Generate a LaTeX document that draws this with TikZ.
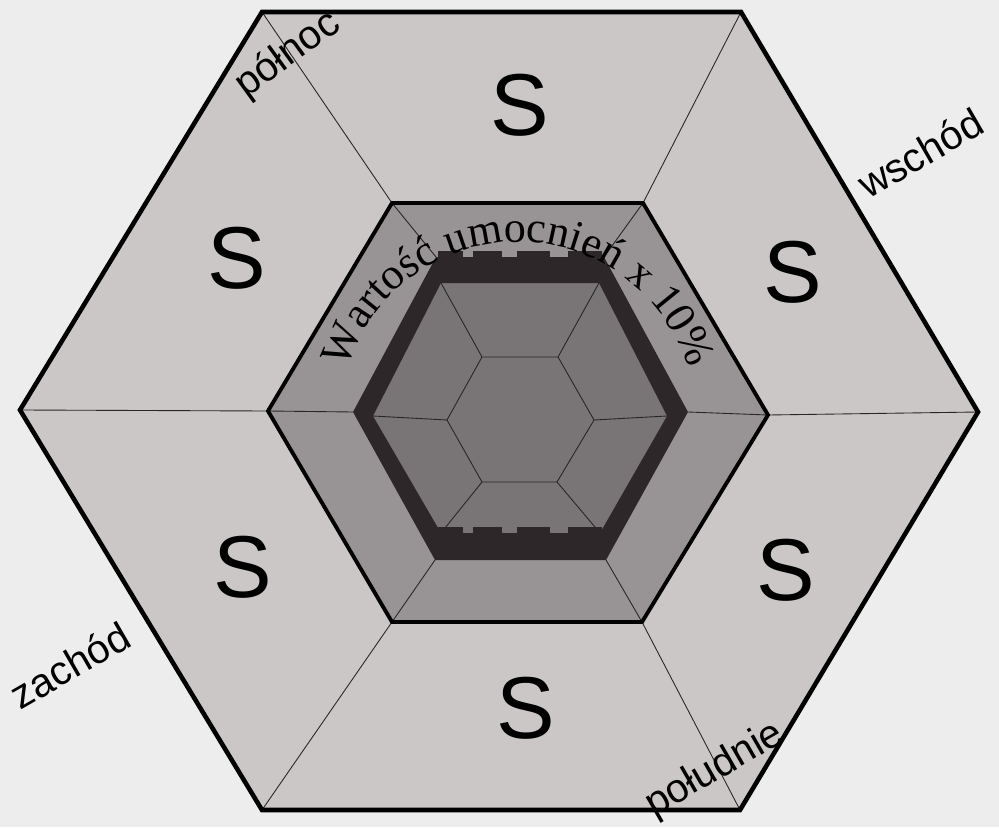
\documentclass[tikz,border=0pt]{standalone}
\usepackage{fontspec}
\setmainfont{Liberation Serif}
\setsansfont{Liberation Sans}
\usepackage{tikz}
\usetikzlibrary{decorations.text}
\definecolor{paper}{RGB}{238,237,237}
\definecolor{ringlight}{RGB}{203,199,199}
\definecolor{ringmid}{RGB}{152,147,148}
\definecolor{ringdark}{RGB}{121,116,117}
\definecolor{wallcol}{RGB}{46,39,41}
\newcommand{\arcfont}{\rmfamily\fontsize{25}{25}\selectfont}

\tikzset{
  spoke/.style={line width=0.5pt, black!85},
  hexborder/.style={line width=2.6pt, line join=miter},
  sectorlabel/.style={font=\sffamily\fontsize{50}{50}\selectfont, inner sep=0pt},
  compass/.style={font=\sffamily\fontsize{23}{23}\selectfont, rotate=30, inner sep=0pt}
}

\begin{document}
\begin{tikzpicture}[x=0.02cm, y=-0.02cm]
    \useasboundingbox (0,0) rectangle (999,827);
    \fill[paper] (0,0) rectangle (999,827);

    % Hexagon corners (outer, middle, wall, inner, centre)
    \coordinate (O1) at (262,12);  \coordinate (O2) at (741,12);  \coordinate (O3) at (978,412);
    \coordinate (O4) at (740,810); \coordinate (O5) at (262,810); \coordinate (O6) at (20,410);
    \coordinate (M1) at (392,203); \coordinate (M2) at (643,203); \coordinate (M3) at (768,415);
    \coordinate (M4) at (642,622); \coordinate (M5) at (392,622); \coordinate (M6) at (268,411);
    \coordinate (B1) at (436,257); \coordinate (B2) at (604,257); \coordinate (B3) at (688,412);
    \coordinate (B4) at (606,560); \coordinate (B5) at (435,560); \coordinate (B6) at (353,412);
    \coordinate (I1) at (441,283); \coordinate (I2) at (599,283); \coordinate (I3) at (667,416);
    \coordinate (I4) at (600,533); \coordinate (I5) at (441,533); \coordinate (I6) at (373,416);
    \coordinate (C1) at (482,357); \coordinate (C2) at (558,357); \coordinate (C3) at (594,420);
    \coordinate (C4) at (557,482); \coordinate (C5) at (482,482); \coordinate (C6) at (447,420);

    % Outer ring
    \fill[ringlight] (O1) -- (O2) -- (O3) -- (O4) -- (O5) -- (O6) -- cycle;
    \foreach \i in {1,...,6} \draw[spoke] (O\i) -- (M\i);

    % Middle ring
    \fill[ringmid] (M1) -- (M2) -- (M3) -- (M4) -- (M5) -- (M6) -- cycle;
    \foreach \i in {1,...,6} \draw[spoke] (M\i) -- (B\i);

    % Inner field with centre hexagon
    \fill[ringdark] (I1) -- (I2) -- (I3) -- (I4) -- (I5) -- (I6) -- cycle;
    \draw[spoke] (C1) -- (C2) -- (C3) -- (C4) -- (C5) -- (C6) -- cycle;
    \foreach \i in {1,...,6} \draw[spoke] (C\i) -- (I\i);

    % Wall with merlons
    \fill[wallcol, even odd rule] (B1) -- (B2) -- (B3) -- (B4) -- (B5) -- (B6) -- cycle
        (I1) -- (I2) -- (I3) -- (I4) -- (I5) -- (I6) -- cycle;
    \foreach \a/\b in {438/463, 473/502, 517/550, 568/602} {
        \fill[wallcol] (\a,251) rectangle (\b,258);
        \fill[wallcol] (\a,527) rectangle (\b,534);
    }

    % Borders
    \draw[hexborder] (O1) -- (O2) -- (O3) -- (O4) -- (O5) -- (O6) -- cycle;
    \draw[hexborder, line width=2.2pt] (M1) -- (M2) -- (M3) -- (M4) -- (M5) -- (M6) -- cycle;

    % Curved caption
    \coordinate (A) at (518,420);
    \path[decorate, decoration={text along path, text align=center,
        text={|\arcfont|Wartość umocnień x 10{\%}}}]
        (A) ++(196:178) arc (196:344:178);

    % Sector labels
    \node[sectorlabel] (sN)  at (520,105) {S};
    \node[sectorlabel] (sNW) at (237,258) {S};
    \node[sectorlabel] (sNE) at (793,272) {S};
    \node[sectorlabel] (sSW) at (243,567) {S};
    \node[sectorlabel] (sSE) at (786,570) {S};
    \node[sectorlabel] (sS)  at (526,708) {S};

    % Directions
    \node[compass, rotate=6] (north) at (288,55) {północ};
    \node[compass] (east)  at (920,153) {wschód};
    \node[compass] (west)  at (70,665) {zachód};
    \node[compass] (south) at (715,770) {południe};
\end{tikzpicture}
\end{document}
